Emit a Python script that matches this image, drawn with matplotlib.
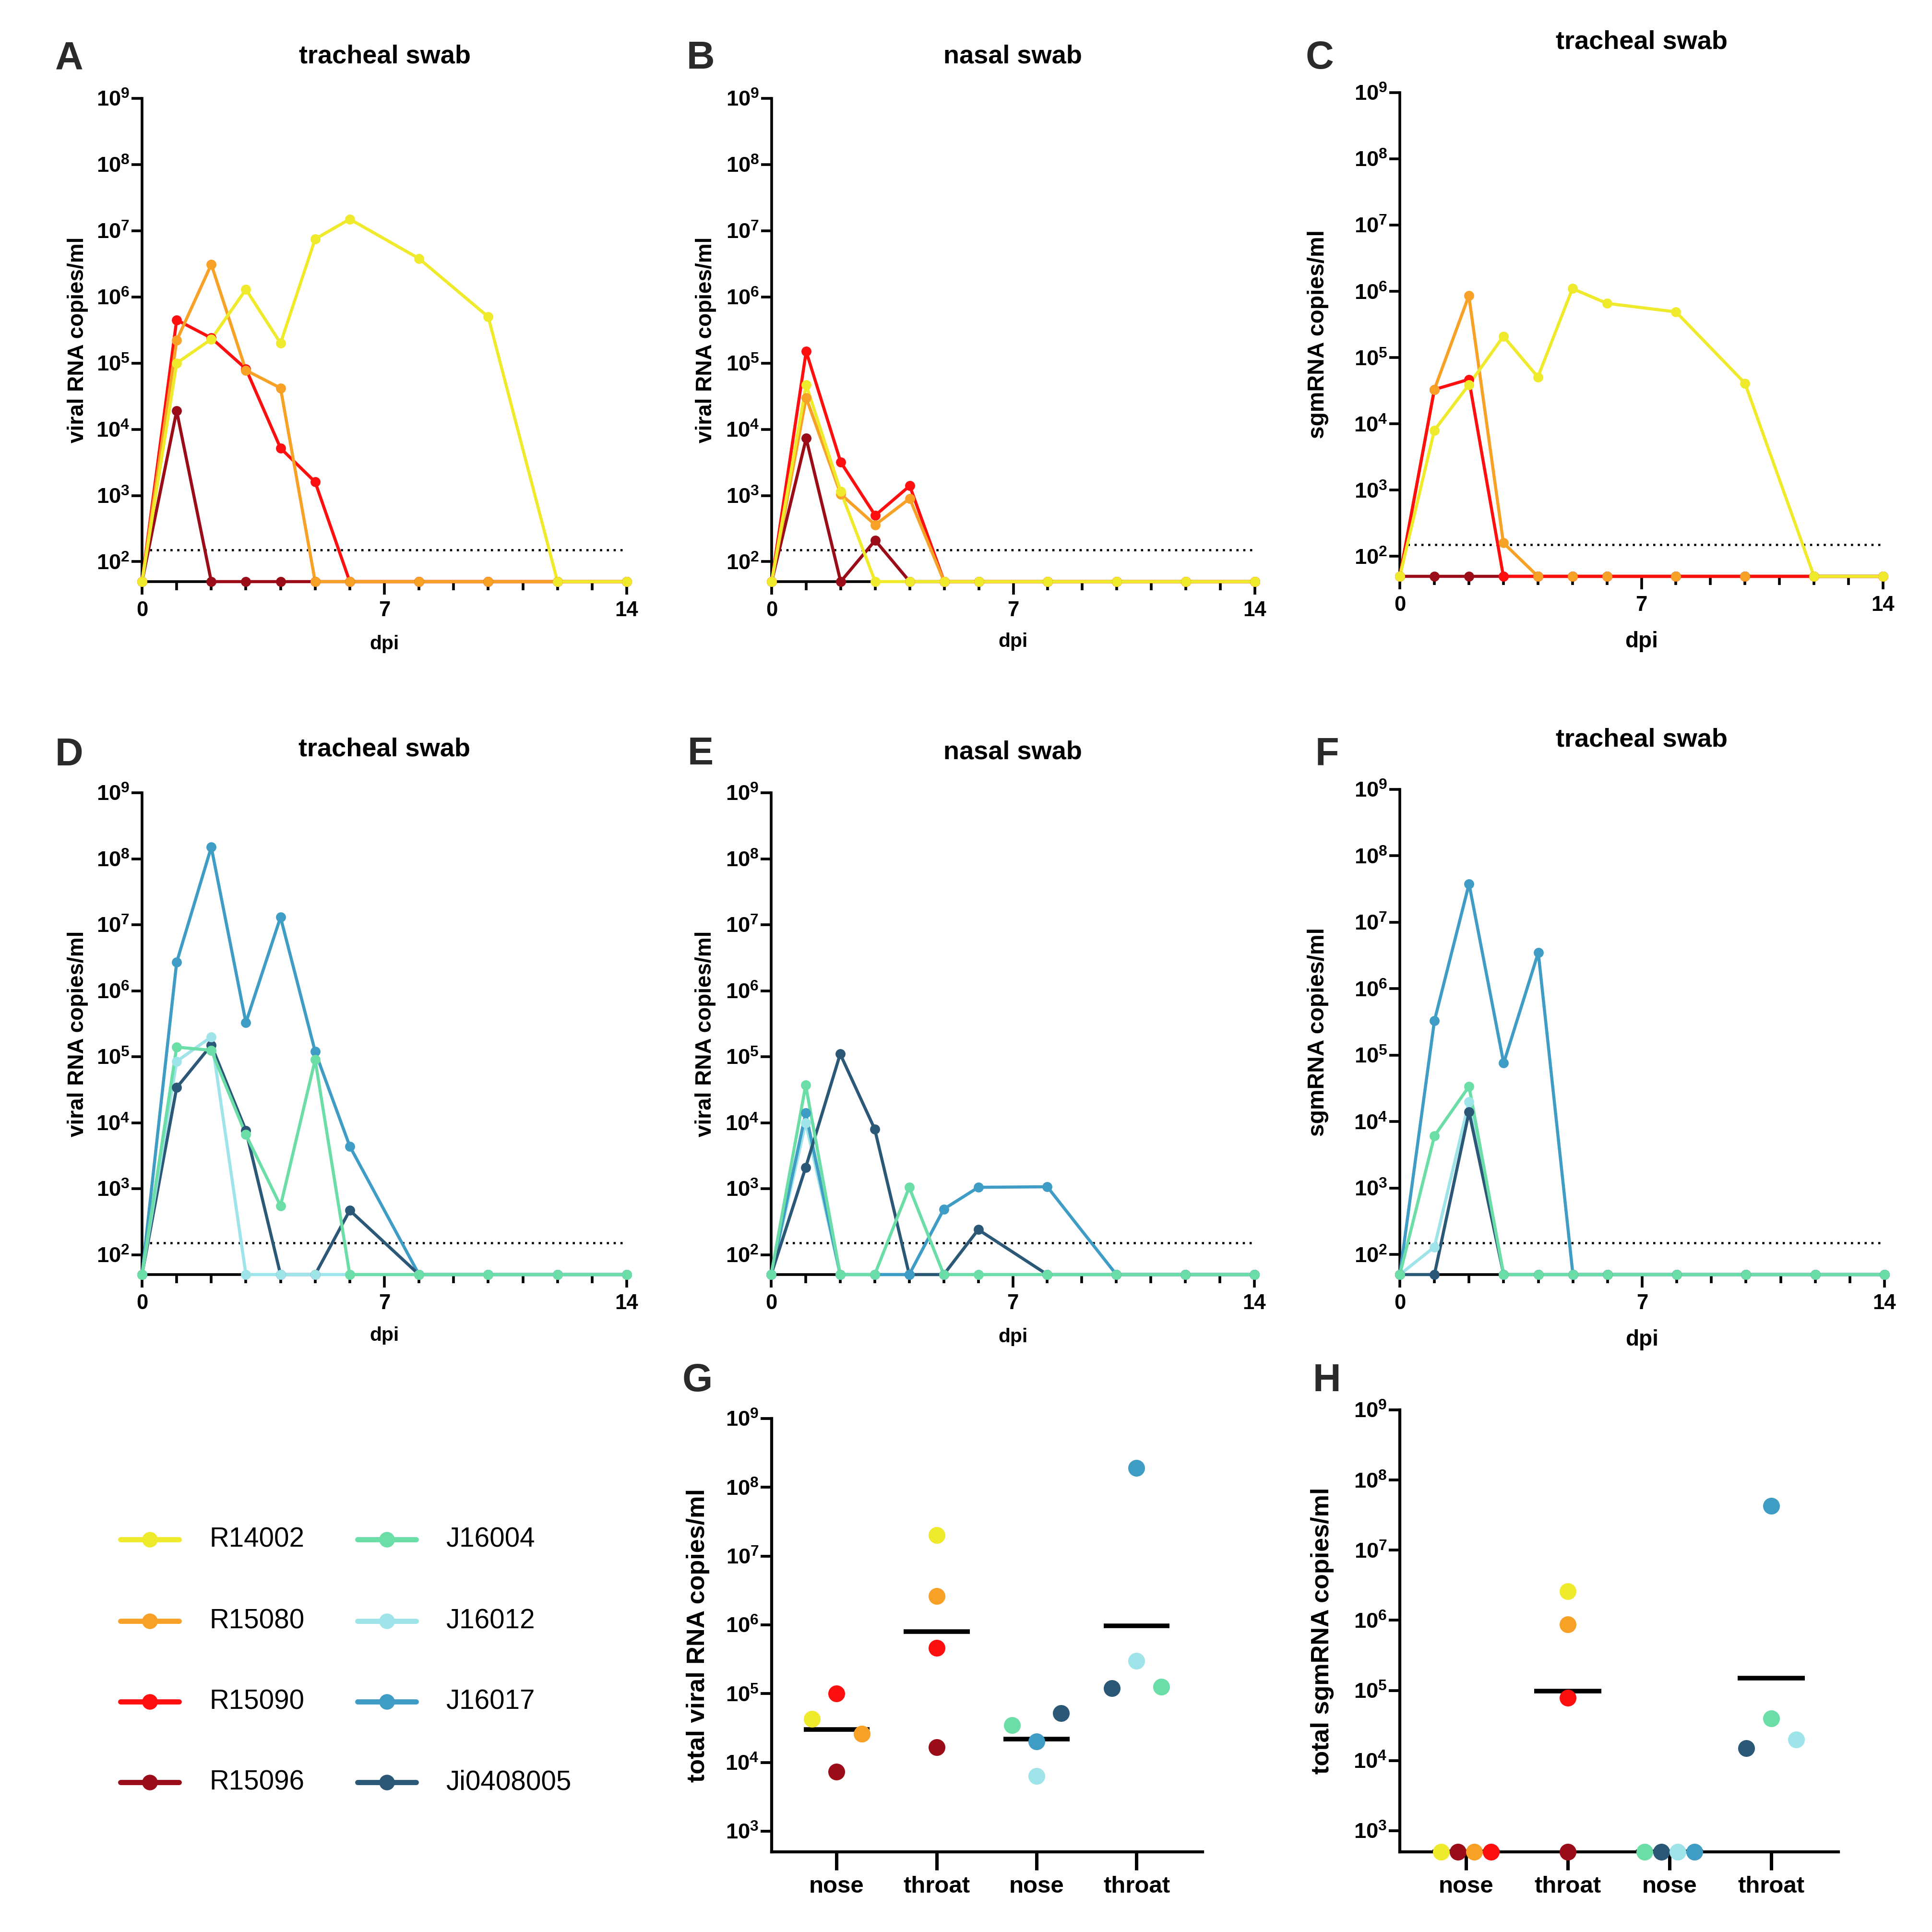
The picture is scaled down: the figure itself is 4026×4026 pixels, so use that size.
#### __import packages__ ####

import numpy as np
import matplotlib
matplotlib.use("Agg")
import matplotlib.pyplot as plt
from matplotlib.ticker import NullLocator


#### __data__ ####

# sampling days (dpi) and the detection floor used for negative samples
days = [0, 1, 2, 3, 4, 5, 6, 8, 10, 12, 14]
floor_swab = 50
lod_line = 150

# A: viral RNA, tracheal swab (rhesus)
A_R14002 = [50, 1.0e5, 2.3e5, 1.3e6, 2.0e5, 7.5e6, 1.5e7, 3.8e6, 5.0e5, 50, 50]
A_R15080 = [50, 2.2e5, 3.1e6, 7.8e4, 4.2e4, 50, 50, 50, 50, 50, 50]
A_R15090 = [50, 4.5e5, 2.4e5, 8.2e4, 5.2e3, 1.6e3, 50, 50, 50, 50, 50]
A_R15096 = [50, 1.9e4, 50, 50, 50, 50, 50, 50, 50, 50, 50]

# B: viral RNA, nasal swab (rhesus)
B_R14002 = [50, 4.7e4, 1.15e3, 50, 50, 50, 50, 50, 50, 50, 50]
B_R15080 = [50, 3.0e4, 1.05e3, 3.6e2, 9.0e2, 50, 50, 50, 50, 50, 50]
B_R15090 = [50, 1.5e5, 3.2e3, 5.0e2, 1.4e3, 50, 50, 50, 50, 50, 50]
B_R15096 = [50, 7.3e3, 50, 2.1e2, 50, 50, 50, 50, 50, 50, 50]

# C: sgmRNA, tracheal swab (rhesus)
C_R14002 = [50, 8.0e3, 3.9e4, 2.1e5, 5.1e4, 1.1e6, 6.6e5, 4.9e5, 4.1e4, 50, 50]
C_R15080 = [50, 3.3e4, 8.6e5, 1.6e2, 50, 50, 50, 50, 50, 50, 50]
C_R15090 = [50, 3.3e4, 4.7e4, 50, 50, 50, 50, 50, 50, 50, 50]
C_R15096 = [50, 50, 50, 50, 50, 50, 50, 50, 50, 50, 50]

# D: viral RNA, tracheal swab (cynomolgus)
D_J16004 = [50, 1.4e5, 1.25e5, 6.6e3, 5.5e2, 9.0e4, 50, 50, 50, 50, 50]
D_J16012 = [50, 8.5e4, 2.0e5, 50, 50, 50, 50, 50, 50, 50, 50]
D_J16017 = [50, 2.7e6, 1.5e8, 3.3e5, 1.3e7, 1.2e5, 4.4e3, 50, 50, 50, 50]
D_Ji0408005 = [50, 3.4e4, 1.5e5, 7.6e3, 50, 50, 4.7e2, 50, 50, 50, 50]

# E: viral RNA, nasal swab (cynomolgus)
E_J16004 = [50, 3.7e4, 50, 50, 1.05e3, 50, 50, 50, 50, 50, 50]
E_J16012 = [50, 1.0e4, 50, 50, 50, 50, 50, 50, 50, 50, 50]
E_J16017 = [50, 1.4e4, 50, 50, 50, 4.9e2, 1.05e3, 1.07e3, 50, 50, 50]
E_Ji0408005 = [50, 2.1e3, 1.1e5, 8.0e3, 50, 50, 2.4e2, 50, 50, 50, 50]

# F: sgmRNA, tracheal swab (cynomolgus)
F_J16004 = [50, 6.1e3, 3.4e4, 50, 50, 50, 50, 50, 50, 50, 50]
F_J16012 = [50, 1.3e2, 2.0e4, 50, 50, 50, 50, 50, 50, 50, 50]
F_J16017 = [50, 3.3e5, 3.8e7, 7.6e4, 3.5e6, 50, 50, 50, 50, 50, 50]
F_Ji0408005 = [50, 50, 1.4e4, 50, 50, 50, 50, 50, 50, 50, 50]

# G / H: totals per animal, groups in order nose, throat, nose, throat
group_labels = ["nose", "throat", "nose", "throat"]
floor_total = 500

G_nose_rh = {"R14002": 4.3e4, "R15080": 2.6e4, "R15090": 1.0e5, "R15096": 7.3e3}
G_throat_rh = {"R14002": 2.0e7, "R15080": 2.6e6, "R15090": 4.6e5, "R15096": 1.66e4}
G_nose_cy = {"J16004": 3.5e4, "J16012": 6.3e3, "J16017": 2.0e4, "Ji0408005": 5.2e4}
G_throat_cy = {"J16004": 1.26e5, "J16012": 3.0e5, "J16017": 1.9e8, "Ji0408005": 1.2e5}

H_nose_rh = {"R14002": 500, "R15096": 500, "R15080": 500, "R15090": 500}
H_throat_rh = {"R14002": 2.6e6, "R15080": 8.8e5, "R15090": 7.8e4, "R15096": 500}
H_nose_cy = {"J16004": 500, "Ji0408005": 500, "J16012": 500, "J16017": 500}
H_throat_cy = {"J16004": 4.0e4, "J16012": 2.0e4, "J16017": 4.3e7, "Ji0408005": 1.5e4}


#### __styles__ ####

colors = {
    "R14002": "#EFEA2B",
    "R15080": "#F7A126",
    "R15090": "#FE0E0E",
    "R15096": "#9A0C17",
    "J16004": "#6BDDA6",
    "J16012": "#9FE4E8",
    "J16017": "#3F9CC5",
    "Ji0408005": "#2B5876",
}

# horizontal spread of overlapping dots in G and H (GraphPad style)
G_spread = [
    {"R14002": -0.245, "R15080": 0.25, "R15090": 0.0, "R15096": 0.0},
    {},
    {"J16004": -0.245, "Ji0408005": 0.245, "J16017": 0.0, "J16012": 0.0},
    {"Ji0408005": -0.245, "J16004": 0.245, "J16017": 0.0, "J16012": 0.0},
]
H_spread = [
    {"R14002": -0.245, "R15096": -0.08, "R15080": 0.08, "R15090": 0.245},
    {},
    {"J16004": -0.245, "Ji0408005": -0.08, "J16012": 0.08, "J16017": 0.245},
    {"Ji0408005": -0.245, "J16012": 0.245},
]

FIG_PX = 4026

plt.rcParams["font.family"] = ["Liberation Sans", "DejaVu Sans"]
plt.rcParams["font.weight"] = "bold"
plt.rcParams["mathtext.fontset"] = "custom"
plt.rcParams["mathtext.rm"] = "Liberation Sans:bold"
plt.rcParams["mathtext.bf"] = "Liberation Sans:bold"
plt.rcParams["mathtext.it"] = "Liberation Sans:bold:italic"


#### __helpers__ ####

def box(left, top, right, bottom):
    # pixel box of the reference -> figure fraction
    return [left / FIG_PX, 1 - bottom / FIG_PX, (right - left) / FIG_PX, (bottom - top) / FIG_PX]


def log_ticks(ax, lo, hi):
    ax.set_yscale("log")
    ax.set_yticks([10.0 ** k for k in range(lo, hi + 1)])
    ax.set_yticklabels([r"$10^{%d}$" % k for k in range(lo, hi + 1)])
    ax.yaxis.set_minor_locator(NullLocator())
    for side in ["top", "right"]:
        ax.spines[side].set_visible(False)


def time_panel(ax, series, line_order, marker_order, ylabel, ylab_x, xlab_y, xlab_size):
    for name in line_order:
        ax.plot(days, series[name], color=colors[name], lw=1.55, zorder=3,
                clip_on=False, solid_joinstyle="round", solid_capstyle="round")
    for name in marker_order:
        ax.plot(days, series[name], ls="none", marker="o", ms=5.0, color=colors[name],
                markeredgewidth=0, zorder=4, clip_on=False)
    ax.hlines(lod_line, 0.22, 14, colors="black", linestyles=(0, (1, 2.1)), lw=1.1, zorder=2)

    log_ticks(ax, 2, 9)
    ax.set_ylim(floor_swab, 1e9)
    ax.set_xlim(0, 14)
    ax.set_xticks([0, 7, 14])
    ax.set_xticks(range(15), minor=True)
    for sp in ["left", "bottom"]:
        ax.spines[sp].set_linewidth(1.35)
    ax.tick_params(axis="y", which="major", length=5.3, width=1.35, labelsize=10.9, pad=0.8)
    ax.tick_params(axis="x", which="major", length=6.5, width=1.35, labelsize=10.5, pad=3)
    ax.tick_params(axis="x", which="minor", length=4.2, width=1.35)

    ax.set_ylabel(ylabel, fontsize=11.0 if "viral" in ylabel else 11.5, fontweight="bold", va="center")
    ax.yaxis.set_label_coords(ylab_x, 0.5)
    ax.set_xlabel("dpi", fontsize=xlab_size, fontweight="bold", va="center")
    ax.xaxis.set_label_coords(0.5, xlab_y)


def total_panel(ax, groups, spread, ylabel, ylab_x):
    for pos, grp in enumerate(groups):
        vals = np.array(list(grp.values()))
        gmean = np.exp(np.mean(np.log(vals)))
        ax.hlines(gmean, pos - 0.33, pos + 0.33, colors="black", lw=2.3, zorder=3)
        for name, v in grp.items():
            ax.plot(pos + spread[pos].get(name, 0.0), v, ls="none", marker="o", ms=8.4,
                    color=colors[name], markeredgewidth=0, zorder=4, clip_on=False)

    log_ticks(ax, 3, 9)
    ax.set_ylim(floor_total, 1e9)
    ax.set_xlim(-0.65, 3.66)
    ax.set_xticks(range(len(group_labels)))
    ax.set_xticklabels(group_labels)
    for sp in ["left", "bottom"]:
        ax.spines[sp].set_linewidth(1.5)
    ax.tick_params(axis="y", length=5.5, width=1.4, labelsize=10.9, pad=0.8)
    ax.tick_params(axis="x", length=9, width=1.7, labelsize=11.8, pad=3)
    ax.set_ylabel(ylabel, fontsize=12.5, fontweight="bold", va="center")
    ax.yaxis.set_label_coords(ylab_x, 0.5)


#### __main__ ####

def main():
    fig = plt.figure(figsize=(FIG_PX / 300, FIG_PX / 300), dpi=300)

    rh = ["R14002", "R15080", "R15090", "R15096"]
    cy = ["J16004", "J16012", "J16017", "Ji0408005"]

    panel_A = dict(zip(rh, [A_R14002, A_R15080, A_R15090, A_R15096]))
    panel_B = dict(zip(rh, [B_R14002, B_R15080, B_R15090, B_R15096]))
    panel_C = dict(zip(rh, [C_R14002, C_R15080, C_R15090, C_R15096]))
    panel_D = dict(zip(cy, [D_J16004, D_J16012, D_J16017, D_Ji0408005]))
    panel_E = dict(zip(cy, [E_J16004, E_J16012, E_J16017, E_Ji0408005]))
    panel_F = dict(zip(cy, [F_J16004, F_J16012, F_J16017, F_Ji0408005]))

    ax_A = fig.add_axes(box(296, 205, 1306, 1212))
    ax_B = fig.add_axes(box(1608, 205, 2615, 1212))
    ax_C = fig.add_axes(box(2917, 193, 3924, 1201))
    ax_D = fig.add_axes(box(296, 1652, 1306, 2656))
    ax_E = fig.add_axes(box(1607, 1652, 2614, 2656))
    ax_F = fig.add_axes(box(2917, 1645, 3927, 2656))
    ax_G = fig.add_axes(box(1608, 2956, 2506, 3859))
    ax_H = fig.add_axes(box(2917, 2938, 3831, 3859))

    vrna = "viral RNA copies/ml"
    sgm = "sgmRNA copies/ml"
    order_rh = ["R15096", "R15090", "R15080", "R14002"]
    time_panel(ax_A, panel_A, order_rh, order_rh, vrna, -0.133, -0.129, 9.8)
    time_panel(ax_B, panel_B, order_rh, order_rh, vrna, -0.136, -0.124, 9.8)
    time_panel(ax_C, panel_C, ["R15096", "R15080", "R15090", "R14002"], order_rh, sgm, -0.169, -0.135, 11.0)
    time_panel(ax_D, panel_D, ["J16017", "Ji0408005", "J16012", "J16004"],
               ["J16017", "Ji0408005", "J16012", "J16004"], vrna, -0.133, -0.126, 9.8)
    time_panel(ax_E, panel_E, ["J16012", "J16017", "Ji0408005", "J16004"],
               ["J16012", "Ji0408005", "J16017", "J16004"], vrna, -0.136, -0.129, 9.8)
    time_panel(ax_F, panel_F, ["J16017", "J16012", "Ji0408005", "J16004"],
               ["J16017", "J16012", "Ji0408005", "J16004"], sgm, -0.169, -0.135, 11.0)

    total_panel(ax_G, [G_nose_rh, G_throat_rh, G_nose_cy, G_throat_cy], G_spread,
                "total viral RNA copies/ml", -0.171)
    total_panel(ax_H, [H_nose_rh, H_throat_rh, H_nose_cy, H_throat_cy], H_spread,
                "total sgmRNA copies/ml", -0.177)

    # panel titles
    titles = [("tracheal swab", 802, 117), ("nasal swab", 2110, 117), ("tracheal swab", 3421, 88),
              ("tracheal swab", 801, 1562), ("nasal swab", 2110, 1567), ("tracheal swab", 3421, 1541)]
    for txt, x, y in titles:
        fig.text(x / FIG_PX, 1 - y / FIG_PX, txt, fontsize=13, fontweight="bold",
                 ha="center", va="center")

    # panel letters
    letters = [("A", 144, 122), ("B", 1460, 122), ("C", 2750, 122), ("D", 144, 1574),
               ("E", 1460, 1572), ("F", 2765, 1574), ("G", 1453, 2878), ("H", 2765, 2878)]
    for txt, x, y in letters:
        fig.text(x / FIG_PX, 1 - y / FIG_PX, txt, fontsize=19.5, fontweight="bold",
                 color="#2a2a2a", ha="center", va="center")

    # legend, drawn in pixel space of the figure
    ax_leg = fig.add_axes([0, 0, 1, 1], zorder=-1)
    ax_leg.set_xlim(0, FIG_PX)
    ax_leg.set_ylim(FIG_PX, 0)
    ax_leg.axis("off")
    rows = [3208, 3378, 3546, 3714]
    for col, (names, x_mid, x_txt) in enumerate([(rh, 312, 436), (cy, 806, 929)]):
        for name, y in zip(names, rows):
            ax_leg.plot([x_mid - 61, x_mid + 61], [y, y], color=colors[name], lw=2.6,
                        solid_capstyle="round")
            ax_leg.plot([x_mid], [y], ls="none", marker="o", ms=7.8, color=colors[name],
                        markeredgewidth=0)
            ax_leg.text(x_txt, y, name, fontsize=13.6, fontweight="normal", ha="left",
                        va="center")

    fig.savefig("out.png", dpi=300, facecolor="white")


if __name__ == "__main__":
    main()
